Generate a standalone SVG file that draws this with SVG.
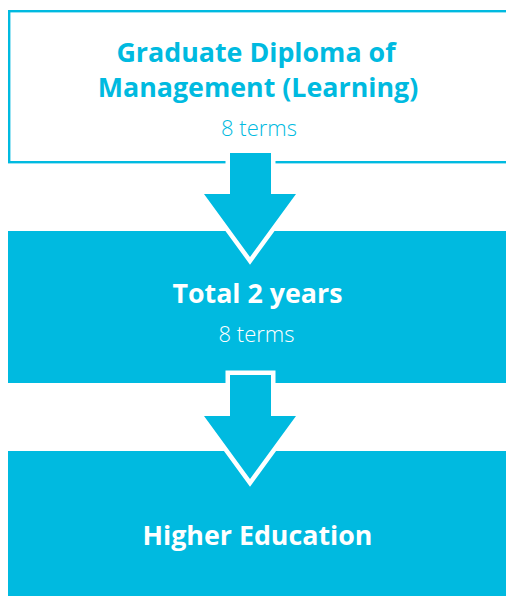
<svg xmlns="http://www.w3.org/2000/svg" width="506" height="596" viewBox="0 0 506 596">
<style>
.title{font-family:"Open Sans","Liberation Sans",sans-serif;font-weight:700;font-size:26.8px;text-anchor:middle}
.sub{font-family:"Open Sans","Liberation Sans",sans-serif;font-weight:300;font-size:22px;text-anchor:middle}
.cyan{fill:#00BAE0}
.white{fill:#FFFFFF}
.arrow{fill:#00BAE0;stroke:#FFFFFF;stroke-width:9;paint-order:stroke;stroke-linejoin:miter}
</style>
<rect width="506" height="596" fill="#FFFFFF"/>
<g id="node-diploma">
<rect x="9.2" y="11.2" width="510" height="151" fill="#FFFFFF" stroke="#00BAE0" stroke-width="2.4"/>
<text class="title cyan" x="256" y="62">Graduate Diploma of</text>
<text class="title cyan" x="258" y="97">Management (Learning)</text>
<text class="sub cyan" x="259" y="136">8 terms</text>
</g>
<g id="node-total">
<rect x="8" y="231" width="510" height="152" fill="#00BAE0"/>
<text class="title white" x="257.5" y="303">Total 2 years</text>
<text class="sub white" x="256.5" y="342">8 terms</text>
</g>
<g id="node-higher">
<rect x="8" y="451" width="510" height="150" fill="#00BAE0"/>
<text class="title white" x="257.5" y="545">Higher Education</text>
</g>
<g id="connectors">
<polygon class="arrow" points="230,153 271,153 271,194 296,194 250,257 204,194 230,194"/>
<polygon class="arrow" points="230,375 271,375 271,416 296,416 250,479 204,416 230,416"/>
</g>
</svg>
